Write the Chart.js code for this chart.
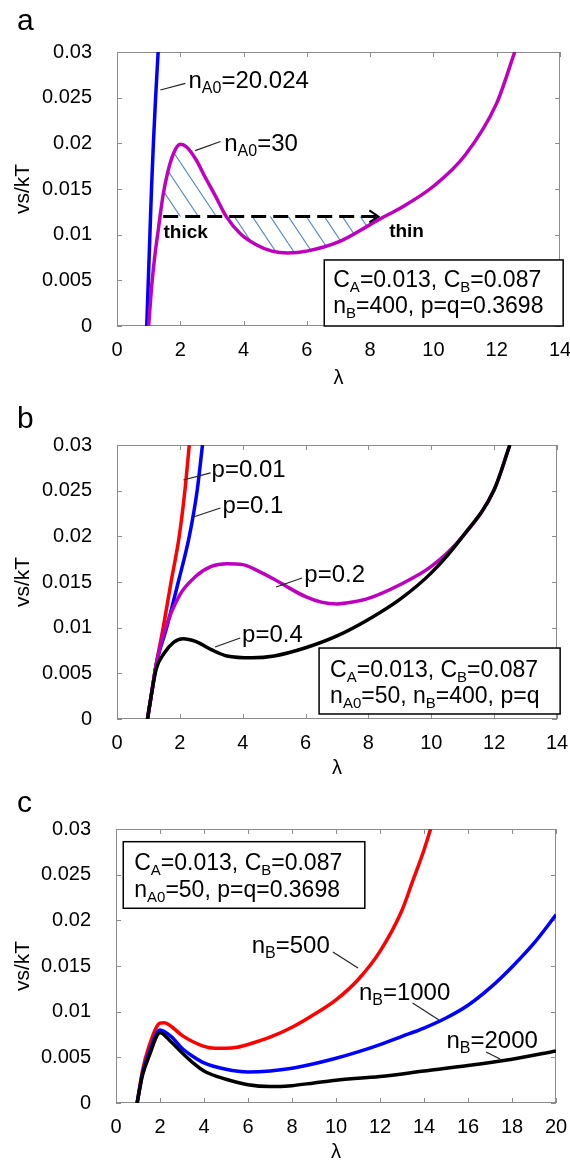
<!DOCTYPE html>
<html>
<head>
<meta charset="utf-8">
<script src="https://cdn.jsdelivr.net/npm/chart.js@4.4.0/dist/chart.umd.min.js"></script>
<style>
  body { margin: 0; background: #fff; }
  canvas { position: absolute; left: 0; }
</style>
</head>
<body>
<canvas id="chartA" width="570" height="395" style="top:0"></canvas>
<canvas id="chartB" width="570" height="390" style="top:395px"></canvas>
<canvas id="chartC" width="570" height="377" style="top:785px"></canvas>
<script>
// ---- ticks ----
const xTicksAB = [0, 2, 4, 6, 8, 10, 12, 14];
const xTicksC = [0, 2, 4, 6, 8, 10, 12, 14, 16, 18, 20];
const yTicks = [0, 0.005, 0.01, 0.015, 0.02, 0.025, 0.03];
const yTickLabels = ["0", "0.005", "0.01", "0.015", "0.02", "0.025", "0.03"];

// ---- panel a ----
const lamA20 = [0.94, 0.99, 1.04, 1.09, 1.15, 1.22, 1.3];
const vsA20 = [0, 0.005, 0.01, 0.015, 0.02, 0.025, 0.03];
const lamA30 = [1.0, 1.1, 1.2, 1.3, 1.45, 1.6, 1.8, 2.0, 2.2, 2.5, 2.8, 3.1, 3.45, 3.9, 4.4, 4.9, 5.4, 6.0, 7.0, 8.0, 8.3, 9.0, 10.0, 11.0, 12.0, 12.57];
const vsA30 = [0, 0.0045, 0.0078, 0.0104, 0.0142, 0.0168, 0.019, 0.0199, 0.0196, 0.0182, 0.0162, 0.0143, 0.012, 0.0101, 0.0089, 0.0082, 0.008, 0.0082, 0.0092, 0.0111, 0.0117, 0.013, 0.0153, 0.0187, 0.0244, 0.03];
const tieLam = [1.46, 8.26];   // thick -> thin tie line
const tieVs = 0.012;

// ---- panel b ----
const lamP001 = [0.97, 1.1, 1.25, 1.47, 1.72, 1.98, 2.16, 2.3];
const vsP001 = [0, 0.0028, 0.006, 0.01, 0.015, 0.02, 0.025, 0.03];
const lamP01 = [0.97, 1.1, 1.25, 1.58, 1.95, 2.3, 2.55, 2.72];
const vsP01 = [0, 0.0028, 0.006, 0.01, 0.015, 0.02, 0.025, 0.03];
const lamP02 = [0.97, 1.1, 1.25, 1.5, 2.0, 2.5, 3.0, 3.5, 4.0, 4.5, 5.0, 5.5, 6.0, 6.5, 7.0, 7.5, 8.0, 9.0, 10.0, 11.0, 12.0, 12.5];
const vsP02 = [0, 0.0028, 0.006, 0.0095, 0.0136, 0.0156, 0.0167, 0.017, 0.0169, 0.0162, 0.0153, 0.0143, 0.0134, 0.0128, 0.0126, 0.0128, 0.0132, 0.0147, 0.0167, 0.02, 0.0251, 0.03];
const lamP04 = [0.97, 1.1, 1.25, 1.5, 1.8, 2.1, 2.5, 3.0, 3.5, 4.3, 5.0, 6.0, 7.0, 8.0, 9.0, 10.0, 11.0, 12.0, 12.5];
const vsP04 = [0, 0.0028, 0.0055, 0.0072, 0.0084, 0.0088, 0.0085, 0.0076, 0.0069, 0.0067, 0.0069, 0.0078, 0.0091, 0.0109, 0.0131, 0.016, 0.02, 0.0251, 0.03];

// ---- panel c ----
const lamB500 = [0.96, 1.2, 1.5, 2.0, 2.2, 2.5, 3.0, 3.5, 4.0, 4.5, 5.0, 5.5, 6.0, 7.0, 8.0, 9.0, 10.0, 11.0, 12.0, 13.0, 13.5, 14.0, 14.3];
const vsB500 = [0, 0.0035, 0.0062, 0.00875, 0.0088, 0.0084, 0.0074, 0.0067, 0.0062, 0.006, 0.006, 0.0061, 0.0064, 0.0072, 0.0083, 0.0097, 0.0113, 0.0135, 0.0166, 0.0211, 0.0244, 0.0277, 0.03];
const lamB1000 = [0.96, 1.2, 1.5, 2.0, 2.5, 3.0, 3.5, 4.0, 5.0, 6.0, 7.0, 8.0, 9.0, 10, 11, 12, 13, 14, 15, 16, 17, 18, 19, 20];
const vsB1000 = [0, 0.0032, 0.0055, 0.008, 0.0073, 0.006, 0.0051, 0.0044, 0.0037, 0.0034, 0.0035, 0.0038, 0.0043, 0.0049, 0.0056, 0.0064, 0.0073, 0.0082, 0.0093, 0.0107, 0.0126, 0.0149, 0.0175, 0.0206];
const lamB2000 = [0.96, 1.2, 1.5, 2.0, 2.5, 3.0, 3.5, 4.0, 5.0, 6.0, 7.0, 8, 9, 10, 12, 14, 16, 18, 20];
const vsB2000 = [0, 0.003, 0.0051, 0.0077, 0.0067, 0.0055, 0.0044, 0.0035, 0.0026, 0.002, 0.0018, 0.0019, 0.0022, 0.0025, 0.0029, 0.0035, 0.0041, 0.0048, 0.0057];

const FONT = '"Liberation Sans", Arial, sans-serif';
const pts = (xs, ys) => xs.map((x, i) => ({ x, y: Array.isArray(ys) ? ys[i] : ys }));

// hatch pattern for the equal-area regions
function makeHatch() {
    const c = document.createElement("canvas");
    c.width = 18; c.height = 27;
    const g = c.getContext("2d");
    g.strokeStyle = "#4f86c6";
    g.lineWidth = 1.1;
    for (const k of [-1, 0, 1]) {
        g.beginPath();
        g.moveTo(k * 18, 0);
        g.lineTo(k * 18 + 18, 27);
        g.stroke();
    }
    return g.createPattern(c, "repeat");
}

// text with _{sub} parts
function drawRich(ctx, str, x, y, size, bold) {
    const parts = str.split(/(_\{[^}]*\})/);
    for (const p of parts) {
        if (!p) continue;
        const sub = p.startsWith("_{");
        const t = sub ? p.slice(2, -1) : p;
        ctx.font = (bold ? "bold " : "") + (sub ? Math.round(size * 0.66) : size) + "px " + FONT;
        ctx.fillText(t, x, sub ? y + size * 0.22 : y);
        x += ctx.measureText(t).width;
    }
}

const frameDeco = {
    id: "frameDeco",
    beforeDatasetsDraw(chart) {
        const { ctx, chartArea: a, scales: { x, y } } = chart;
        ctx.save();
        ctx.strokeStyle = "#8c8c8c";
        ctx.lineWidth = 1;
        ctx.strokeRect(a.left + 0.5, a.top + 0.5, a.right - a.left - 1, a.bottom - a.top - 1);
        ctx.beginPath();
        x.ticks.forEach(t => {
            const p = Math.round(x.getPixelForValue(t.value)) + 0.5;
            ctx.moveTo(p, a.bottom); ctx.lineTo(p, a.bottom - 5);
            ctx.moveTo(p, a.top); ctx.lineTo(p, a.top + 5);
        });
        y.ticks.forEach(t => {
            const p = Math.round(y.getPixelForValue(t.value)) + 0.5;
            ctx.moveTo(a.left, p); ctx.lineTo(a.left + 5, p);
            ctx.moveTo(a.right, p); ctx.lineTo(a.right - 5, p);
        });
        ctx.stroke();
        ctx.restore();
    },
    afterDatasetsDraw(chart, args, opts) {
        const { ctx, scales: { x, y } } = chart;
        const X = v => x.getPixelForValue(v);
        const Y = v => y.getPixelForValue(v);
        ctx.save();
        ctx.fillStyle = "#000";
        ctx.textBaseline = "alphabetic";

        // arrow head on the tie line
        if (opts.arrow !== undefined) {
            const d = chart.getDatasetMeta(opts.arrow).data;
            const e = d[d.length - 1];
            ctx.strokeStyle = "#000";
            ctx.lineWidth = 2;
            ctx.beginPath();
            ctx.moveTo(e.x - 9, e.y - 6); ctx.lineTo(e.x, e.y); ctx.lineTo(e.x - 9, e.y + 6);
            ctx.stroke();
        }

        // labels with leader lines
        (opts.notes || []).forEach(n => {
            if (n.line) {
                ctx.strokeStyle = "#222";
                ctx.lineWidth = 1.2;
                ctx.beginPath();
                ctx.moveTo(X(n.line[0]), Y(n.line[1]));
                ctx.lineTo(X(n.line[2]), Y(n.line[3]));
                ctx.stroke();
            }
            drawRich(ctx, n.text, X(n.x), Y(n.y), n.size || 24, n.bold);
        });

        // parameter box
        const b = opts.box;
        if (b) {
            const l = X(b.x1), r = X(b.x2), t = Y(b.yTop), bt = Y(b.yBot);
            ctx.fillStyle = "#fff";
            ctx.fillRect(l, t, r - l, bt - t);
            ctx.strokeStyle = "#000";
            ctx.lineWidth = 1.5;
            ctx.strokeRect(l, t, r - l, bt - t);
            ctx.fillStyle = "#000";
            b.lines.forEach((s, i) => drawRich(ctx, s, l + b.dx, t + b.dy[i], 23));
        }

        // panel letter
        ctx.font = "30px " + FONT;
        ctx.fillText(opts.letter, 17, opts.letterY);
        ctx.restore();
    }
};

function curve(data, color, extra) {
    return Object.assign({
        data, borderColor: color, borderWidth: 3.5, pointRadius: 0,
        fill: false, cubicInterpolationMode: "monotone"
    }, extra || {});
}

function makePanel(id, datasets, xTicks, geo, deco) {
    return new Chart(document.getElementById(id), {
        type: "line",
        data: { datasets },
        plugins: [frameDeco],
        options: {
            responsive: false,
            animation: false,
            events: [],
            layout: { padding: { left: 0, top: geo.top, right: geo.right, bottom: 0 } },
            plugins: { legend: { display: false }, tooltip: { enabled: false }, frameDeco: deco },
            scales: {
                x: {
                    type: "linear",
                    min: xTicks[0],
                    max: xTicks[xTicks.length - 1],
                    afterBuildTicks: s => { s.ticks = xTicks.map(v => ({ value: v })); },
                    afterFit: s => { s.height = geo.xh; s.paddingLeft = 0; s.paddingRight = 0; },
                    grid: { display: false },
                    border: { display: false },
                    ticks: { padding: 4, color: "#000", font: { family: FONT, size: 20 }, maxRotation: 0, callback: v => String(v) },
                    title: { display: true, text: "λ", color: "#000", font: { family: FONT, size: 20, lineHeight: geo.titleLH }, padding: { top: 0, bottom: geo.titlePad } }
                },
                y: {
                    min: 0,
                    max: 0.03,
                    afterBuildTicks: s => { s.ticks = yTicks.map(v => ({ value: v })); },
                    afterFit: s => { s.width = geo.yw; s.paddingTop = 0; s.paddingBottom = 0; },
                    grid: { display: false },
                    border: { display: false },
                    ticks: { padding: 17, color: "#000", font: { family: FONT, size: 20 }, callback: (v, i) => yTickLabels[i] },
                    title: { display: true, text: "vs/kT", color: "#000", font: { family: FONT, size: 21 }, padding: { top: 11, bottom: 0 } }
                }
            }
        }
    });
}

const hatch = makeHatch();
const curveA30 = pts(lamA30, vsA30);

// panel a
makePanel("chartA", [
    curve(curveA30, "#c000c0"),
    curve(pts(lamA20, vsA20), "#0000ff"),
    curve(pts(tieLam, tieVs), "#000", { borderWidth: 3, borderDash: [15, 7], cubicInterpolationMode: "default", tension: 0 }),
    curve(curveA30.filter(p => p.x >= 1.45 && p.x <= 8.3), "rgba(0,0,0,0)", { borderWidth: 0, fill: { value: tieVs }, backgroundColor: hatch })
], xTicksAB, { top: 52, right: 10, xh: 69, yw: 117, titleLH: 1.2, titlePad: 5 }, {
    letter: "a", letterY: 30, arrow: 2,
    notes: [
        { text: "n_{A0}=20.024", x: 2.26, y: 0.02606, line: [1.37, 0.02584, 2.16, 0.02657] },
        { text: "n_{A0}=30", x: 3.39, y: 0.0192, line: [2.47, 0.0192, 3.27, 0.0202] },
        { text: "thick", x: 1.47, y: 0.00964, size: 19, bold: true },
        { text: "thin", x: 8.6, y: 0.00978, size: 19, bold: true }
    ],
    box: { x1: 6.55, x2: 14.1, yTop: 0.00723, yBot: 0, dx: 9, dy: [27, 53],
           lines: ["C_{A}=0.013, C_{B}=0.087", "n_{B}=400, p=q=0.3698"] }
});

// panel b
makePanel("chartB", [
    curve(pts(lamP04, vsP04), "#000"),
    curve(pts(lamP02, vsP02), "#c000c0"),
    curve(pts(lamP01, vsP01), "#0000ff"),
    curve(pts(lamP001, vsP001), "#ff0000")
], xTicksAB, { top: 50, right: 13, xh: 66, yw: 117, titleLH: 1.2, titlePad: 5 }, {
    letter: "b", letterY: 33,
    notes: [
        { text: "p=0.01", x: 3.01, y: 0.0265, line: [2.11, 0.02617, 2.98, 0.02694] },
        { text: "p=0.1", x: 3.36, y: 0.02256, line: [2.43, 0.02212, 3.29, 0.0231] },
        { text: "p=0.2", x: 5.96, y: 0.015, line: [5.06, 0.01445, 5.89, 0.01544] },
        { text: "p=0.4", x: 3.98, y: 0.00843, line: [3.12, 0.00788, 3.92, 0.00887] }
    ],
    box: { x1: 6.43, x2: 14.1, yTop: 0.00777, yBot: 0.00055, dx: 11, dy: [29, 55],
           lines: ["C_{A}=0.013, C_{B}=0.087", "n_{A0}=50, n_{B}=400, p=q"] }
});

// panel c
makePanel("chartC", [
    curve(pts(lamB2000, vsB2000), "#000"),
    curve(pts(lamB1000, vsB1000), "#0000ff"),
    curve(pts(lamB500, vsB500), "#ff0000")
], xTicksC, { top: 44, right: 14, xh: 59, yw: 116, titleLH: 1, titlePad: 0 }, {
    letter: "c", letterY: 27,
    notes: [
        { text: "n_{B}=500", x: 6.17, y: 0.01642, line: [9.86, 0.01653, 11.0, 0.01478] },
        { text: "n_{B}=1000", x: 11.04, y: 0.01128, line: [13.48, 0.01095, 14.68, 0.00909] },
        { text: "n_{B}=2000", x: 15.02, y: 0.00602, line: [16.82, 0.00558, 17.46, 0.00482] }
    ],
    box: { x1: 0.33, x2: 11.31, yTop: 0.02861, yBot: 0.02132, dx: 11, dy: [28, 55],
           lines: ["C_{A}=0.013, C_{B}=0.087", "n_{A0}=50, p=q=0.3698"] }
});
</script>
</body>
</html>
